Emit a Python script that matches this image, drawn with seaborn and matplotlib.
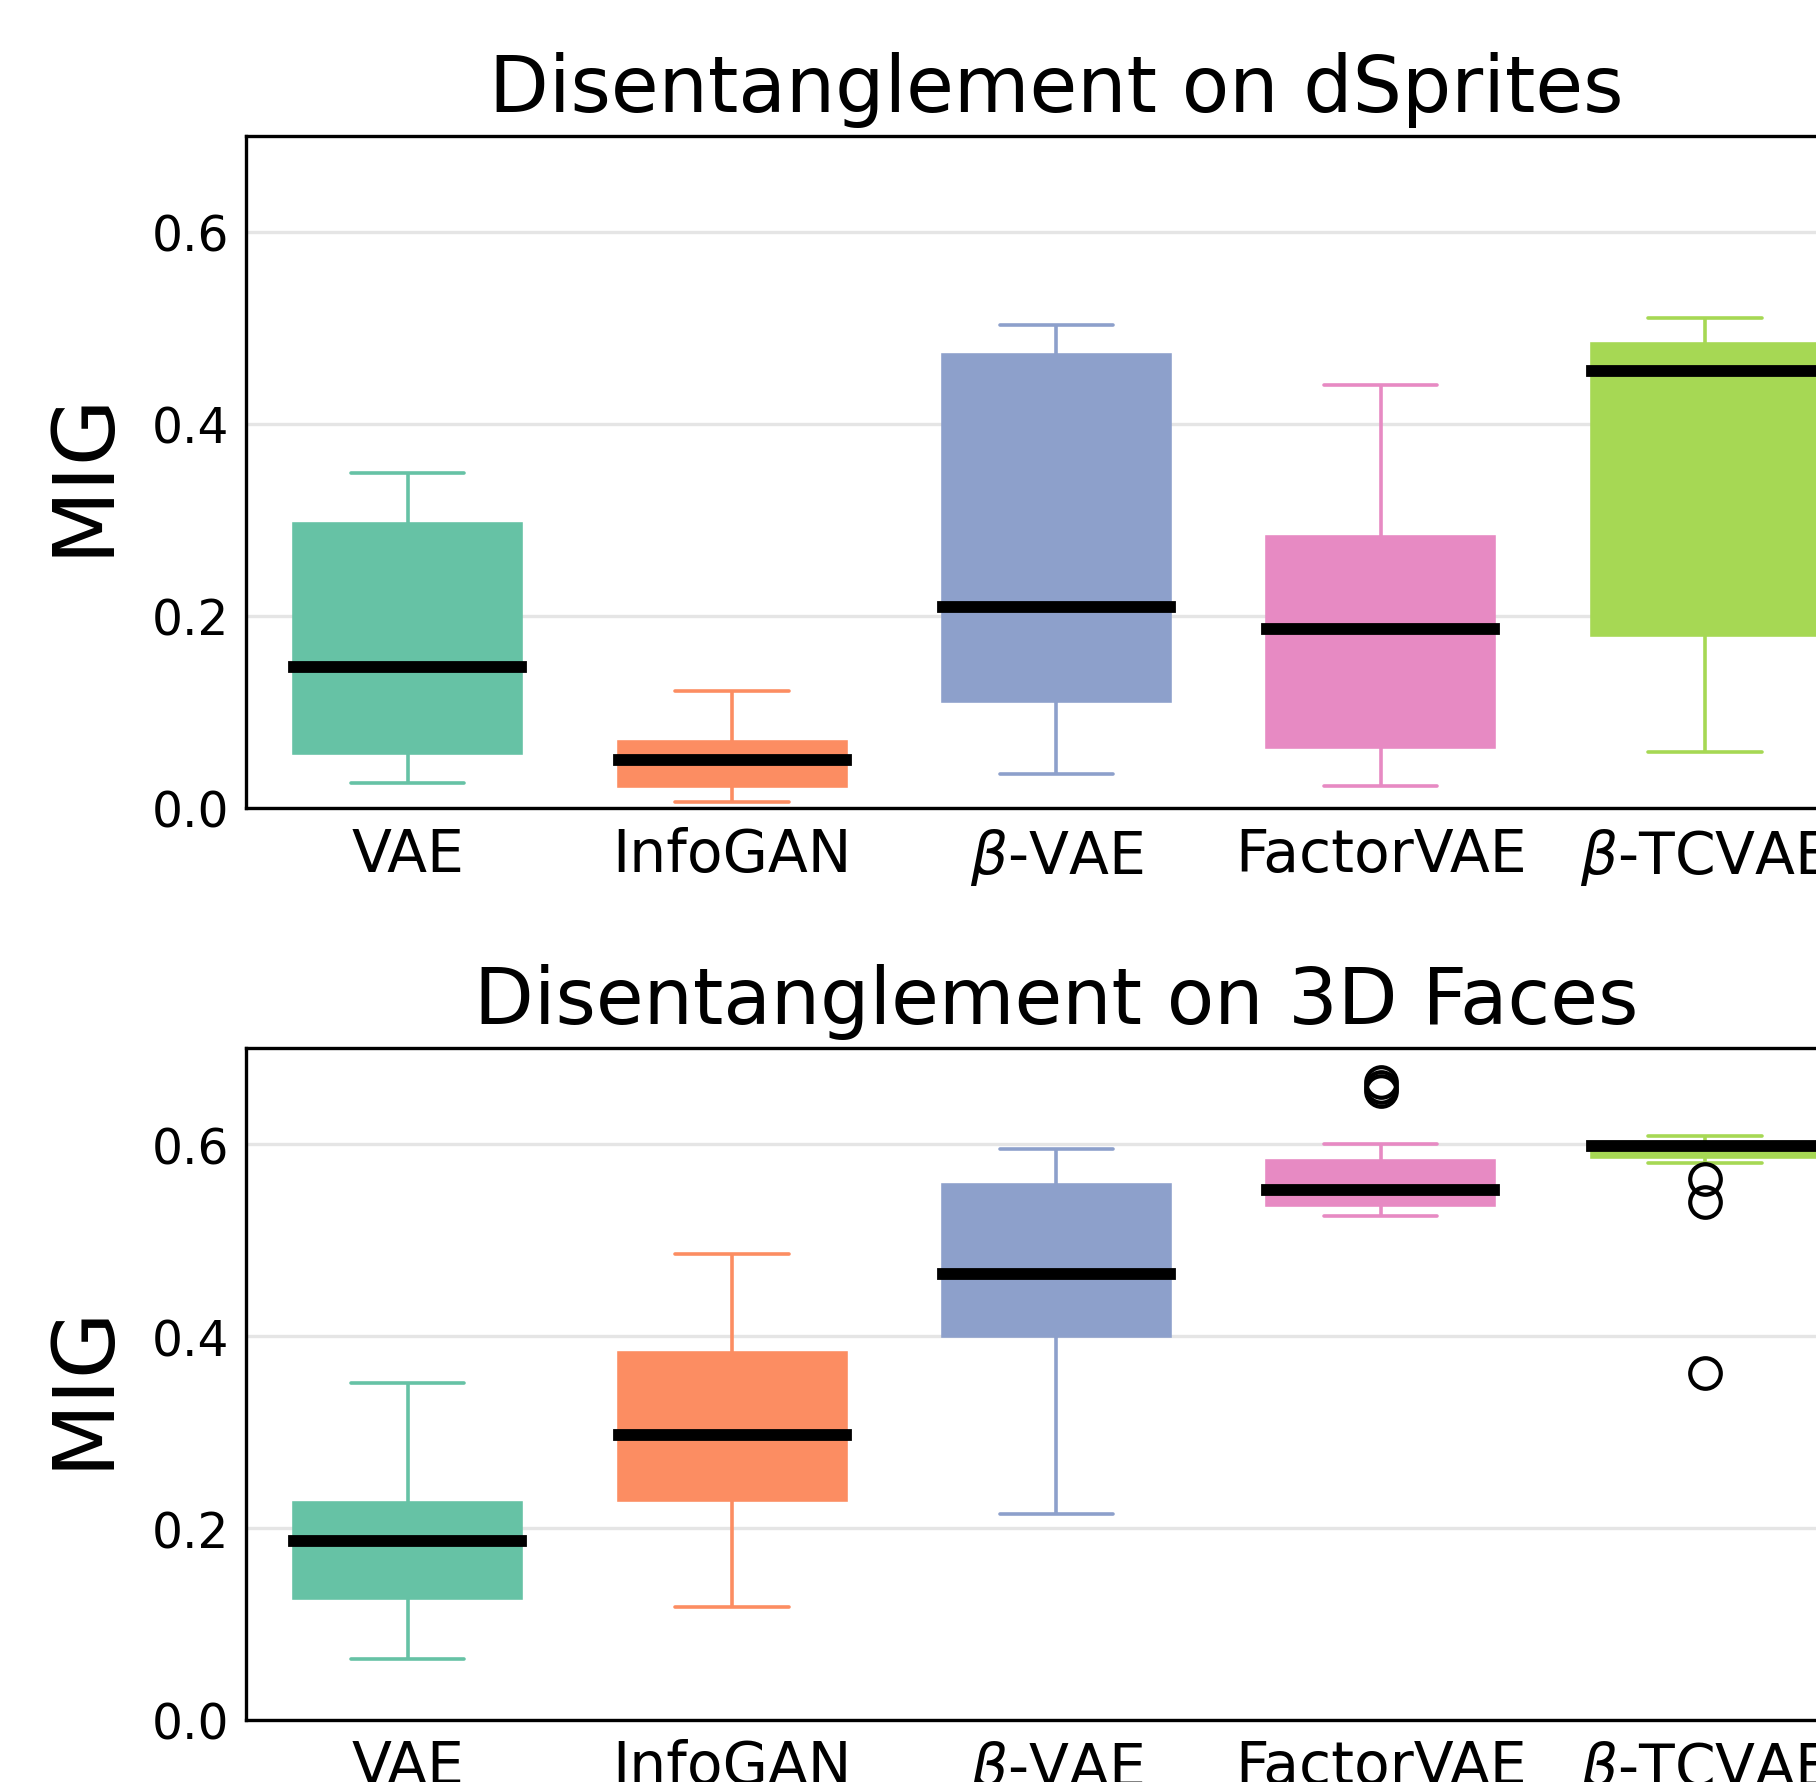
import pandas as pd
import seaborn as sns
import matplotlib.pyplot as plt

methods = ["VAE", "InfoGAN", r"$\beta$-VAE", "FactorVAE", r"$\beta$-TCVAE"]
colors = sns.color_palette("Set2", 5)

dsprites_vae = [0.026, 0.057, 0.147, 0.296, 0.349]
dsprites_infogan = [0.006, 0.023, 0.050, 0.068, 0.121]
dsprites_bvae = [0.035, 0.111, 0.209, 0.472, 0.503]
dsprites_factorvae = [0.022, 0.063, 0.186, 0.282, 0.440]
dsprites_btcvae = [0.058, 0.180, 0.455, 0.483, 0.510]

# MIG scores on 3D Faces
faces_vae = [0.064, 0.127, 0.187, 0.226, 0.351]
faces_infogan = [0.118, 0.229, 0.297, 0.383, 0.486]
faces_bvae = [0.215, 0.400, 0.465, 0.558, 0.595]
faces_factorvae = [0.525, 0.530, 0.533, 0.535, 0.537, 0.540, 0.545, 0.550, 0.552,
                   0.560, 0.570, 0.578, 0.583, 0.600, 0.656, 0.660, 0.665]
faces_btcvae = [0.362, 0.540, 0.564, 0.581, 0.587, 0.590, 0.594, 0.596, 0.598,
                0.599, 0.600, 0.600, 0.601, 0.603, 0.605, 0.607, 0.609]

panels = [
    ("Disentanglement on dSprites",
     [dsprites_vae, dsprites_infogan, dsprites_bvae, dsprites_factorvae, dsprites_btcvae]),
    ("Disentanglement on 3D Faces",
     [faces_vae, faces_infogan, faces_bvae, faces_factorvae, faces_btcvae]),
]

sns.set_style("white")
plt.rcParams['font.family'] = ['DejaVu Sans']
plt.rcParams['text.color'] = 'black'
plt.rcParams['axes.labelcolor'] = 'black'
plt.rcParams['xtick.color'] = 'black'
plt.rcParams['ytick.color'] = 'black'

fig = plt.figure(figsize=(18.16, 17.83), dpi=100)
positions = [[0.1352, 0.5465, 0.893, 0.3768], [0.1352, 0.0348, 0.893, 0.3766]]

for (title, series), pos in zip(panels, positions):
    ax = fig.add_axes(pos)
    rows = []
    for m, vals in zip(methods, series):
        for v in vals:
            rows.append({"method": m, "MIG": v})
    df = pd.DataFrame(rows)
    for m, c in zip(methods, colors):
        sns.boxplot(data=df[df["method"] == m], x="method", y="MIG", order=methods,
                    color=c, linecolor=c, saturation=1, width=0.7, linewidth=2.6,
                    medianprops={"color": "black", "linewidth": 8.5,
                                 "solid_capstyle": "projecting"},
                    flierprops={"marker": "o", "markersize": 22, "markerfacecolor": "none",
                                "markeredgecolor": "black", "markeredgewidth": 3},
                    ax=ax)
    ax.set_ylim(0, 0.7)
    ax.set_xlim(-0.5, 4.5)
    ax.set_yticks([0.0, 0.2, 0.4, 0.6])
    ax.yaxis.grid(True, color="#e5e5e5", linewidth=2.4)
    ax.set_axisbelow(True)
    ax.tick_params(axis="y", direction="in", length=10, width=2.2, labelsize=35, pad=12)
    ax.tick_params(axis="x", length=0, labelsize=42, pad=13)
    for s in ax.spines.values():
        s.set_linewidth(2.4)
        s.set_color("black")
    ax.set_xlabel("")
    ax.set_ylabel("MIG", fontsize=62, labelpad=19)
    ax.set_title(title, fontsize=56, pad=18)

fig.savefig("out.png", dpi=100)
